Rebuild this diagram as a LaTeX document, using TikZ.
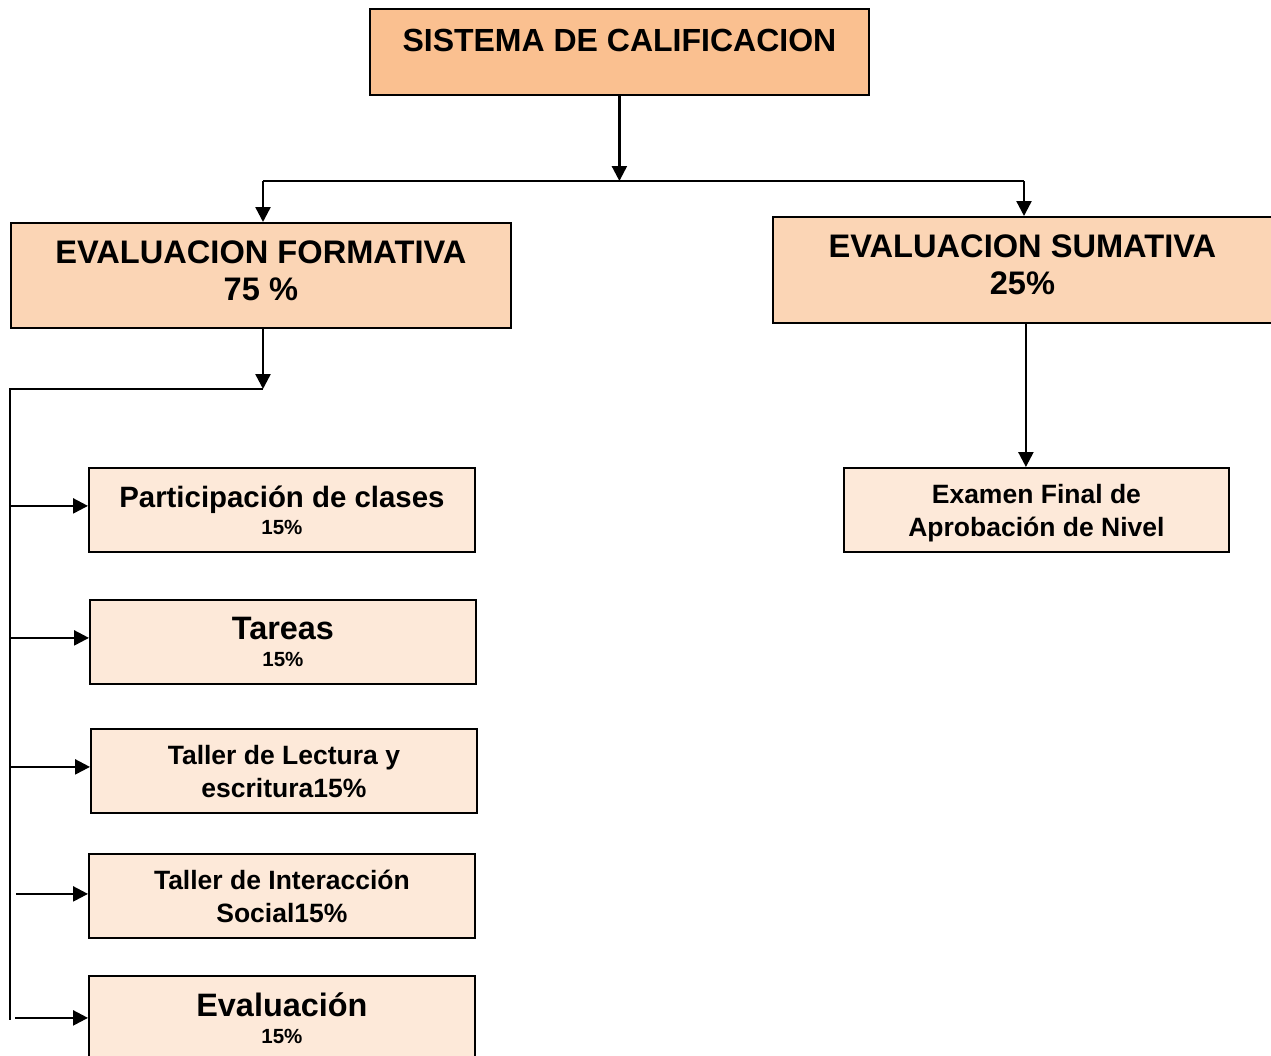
\documentclass[tikz,border=0pt]{standalone}
\usepackage{fontspec}
\setmainfont{Liberation Sans}
\usetikzlibrary{arrows.meta,calc}
\definecolor{rootfill}{HTML}{FAC090}
\definecolor{branchfill}{HTML}{FBD5B5}
\definecolor{leaffill}{HTML}{FDE9D9}
\newcommand{\pct}{\fontsize{20.5}{24}\selectfont}

\begin{document}
\begin{tikzpicture}[x=1pt, y=-1pt,
    box/.style={draw, line width=1.8pt, inner sep=0pt, align=center},
    root/.style={box, fill=rootfill, minimum width=499pt, minimum height=86pt,
        text depth=24pt, font=\bfseries\fontsize{32}{37}\selectfont},
    branch/.style={box, fill=branchfill, minimum width=500pt, minimum height=105pt,
        text depth=10pt, font=\bfseries\fontsize{32.6}{37}\selectfont},
    leaf/.style={box, fill=leaffill, minimum width=386pt, minimum height=84pt,
        text depth=0pt, font=\bfseries\fontsize{26.5}{33}\selectfont},
    leafmix/.style={leaf, font=\bfseries\fontsize{32.4}{27}\selectfont},
    wire/.style={line width=2.4pt},
    conn/.style={wire, -{Triangle[length=15pt, width=15pt]}}]
    \useasboundingbox (0,0) rectangle (1271,1055);
    \clip (0,0) rectangle (1271,1055);

    % Sistema
    \node[root, anchor=north west] (sistema) at (369,8) {SISTEMA DE CALIFICACION};

    % Evaluaciones
    \node[branch, anchor=north west] (formativa) at (10,222) {EVALUACION FORMATIVA\\75 \%};
    \node[branch, anchor=north west, minimum width=499pt, minimum height=106pt] (sumativa)
        at (772,216) {EVALUACION SUMATIVA\\25\%};

    % Bus
    \coordinate (busL) at (263,181);
    \coordinate (busR) at (1024,181);
    \coordinate (bus) at (sistema.south |- busL);
    \draw[conn] (sistema.south) -- (bus);
    \draw[wire] (busL) -- (busR);
    \draw[conn] (busL) -- (busL |- formativa.north);
    \draw[conn] (busR) -- (busR |- sumativa.north);

    % Formativa
    \node[leafmix, anchor=north west] (part) at (88,467)
        {{\fontsize{29.4}{27}\selectfont Participación de clases}\\{\pct 15\%}};
    \node[leafmix, anchor=north west] (tareas) at (89,599) {Tareas\\{\pct 15\%}};
    \node[leaf, anchor=north west] (lectura) at (90,728) {Taller de Lectura y\\escritura15\%};
    \node[leaf, anchor=north west] (social) at (88,853) {Taller de Interacción\\Social15\%};
    \node[leafmix, anchor=north west] (evaluacion) at (88,975) {Evaluación\\{\pct 15\%}};

    \coordinate (codo) at (263,389);
    \coordinate (spineTop) at (10,389);
    \coordinate (spineBot) at (10,1020);
    \draw[conn] (codo |- formativa.south) -- (codo);
    \draw[wire] (codo) -- (spineTop) -- (spineBot);
    \foreach \n/\dx/\dy in {part/0/4, tareas/0/4, lectura/0/4, social/6/2, evaluacion/5/0} {
        \draw[conn] ($(spineTop |- \n.west)+(\dx,-\dy)$) -- ($(\n.west)+(0,-\dy)$);
    }

    % Sumativa
    \node[leaf, anchor=north west, minimum width=385pt] (examen) at (843,467)
        {Examen Final de\\Aprobación de Nivel};
    \draw[conn] ($(sumativa.south)+(3.5,0)$) coordinate (baja) -- (baja |- examen.north);
\end{tikzpicture}
\end{document}
